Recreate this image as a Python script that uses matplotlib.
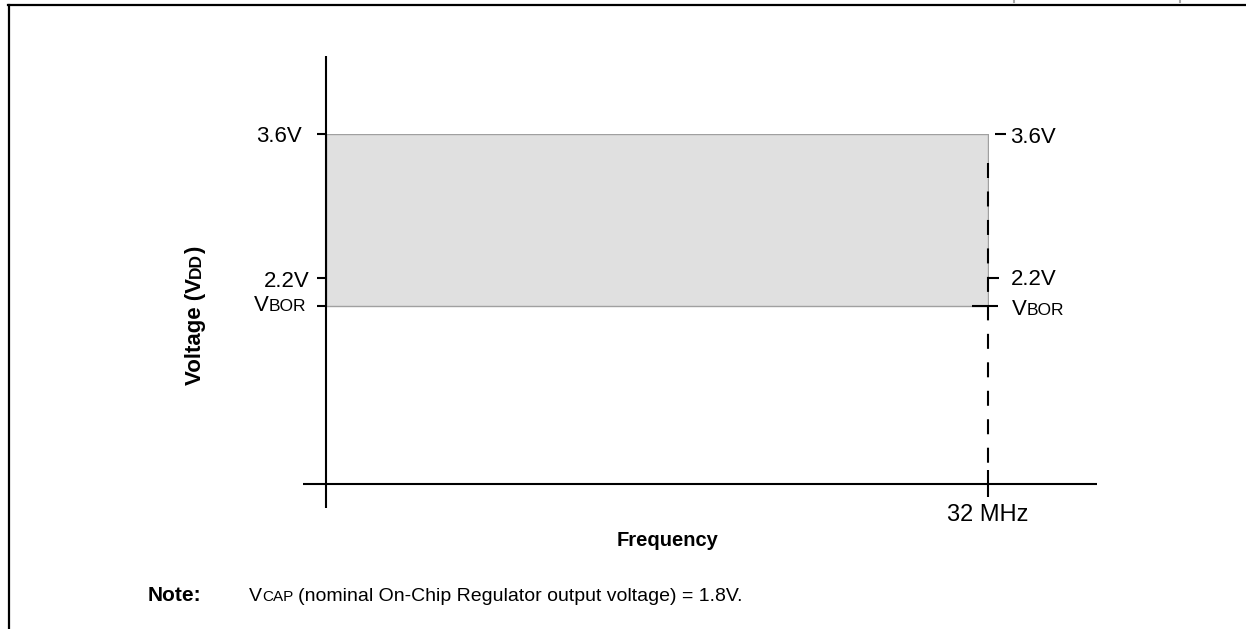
import matplotlib.pyplot as plt
from matplotlib.lines import Line2D
from matplotlib.transforms import IdentityTransform

plt.rcParams['font.family'] = ['Liberation Sans', 'DejaVu Sans']
plt.rcParams['lines.scale_dashes'] = False

# values
f_max = 32              # MHz
v_max = 3.6             # V
v_min = 2.2             # V
v_bor = 1.93            # V (brown-out level, schematic)
v_floor = 0.2           # where the frequency axis sits
level_values = [v_max, v_min]
level_labels = ['3.6V', '2.2V']
freq_label = '32 MHz'
note_text = '(nominal On-Chip Regulator output voltage) = 1.8V.'

W, H = 1246, 629
fs = 16
fs_small = 12.5

fig = plt.figure(figsize=(W / 100, H / 100), dpi=100)
# plot box: origin at pixel (326, 484), top right at (988, 134)
ax = fig.add_axes([326 / W, 1 - 484 / H, (988 - 326) / W, (484 - 134) / H])
ax.set_xlim(0, f_max)
ax.set_ylim(v_floor, v_max)
ax.axis('off')

fx = f_max / 662.0            # MHz per pixel
fy = (v_max - v_floor) / 350.0  # V per pixel
blk = dict(color='k', lw=1.5, clip_on=False, solid_capstyle='butt')

# operating area
ax.fill_between([0, f_max], v_bor, v_max, facecolor='#e0e0e0',
                edgecolor='#a0a0a0', lw=1, zorder=1)

# axes lines
ax.plot([-23 * fx, f_max + 109 * fx], [v_floor, v_floor], zorder=3, **blk)
ax.plot([0, 0], [v_floor - 24 * fy, v_max + 78 * fy], zorder=3, **blk)

# dashed limit at 32 MHz
ax.plot([f_max, f_max], [v_max - 29 * fy, v_floor + 21 * fy], color='k', lw=1.5,
        linestyle=(0, (10.8, 9.7)), clip_on=False, zorder=3)
ax.plot([f_max, f_max], [v_floor + 14 * fy, v_floor - 13 * fy], zorder=3, **blk)

# left ticks and labels
left_gap = [24, 16]
for v, lab, g in zip(level_values, level_labels, left_gap):
    ax.plot([-9.5 * fx, 0], [v, v], zorder=3, **blk)
    ax.annotate(lab, xy=(0, v), xytext=(-g, -8.5), textcoords='offset pixels',
                ha='right', va='baseline', fontsize=fs, annotation_clip=False)
ax.plot([-9.5 * fx, 0], [v_bor, v_bor], zorder=3, **blk)
bor = ax.annotate('BOR', xy=(0, v_bor), xytext=(-20, -5), textcoords='offset pixels',
                  ha='right', va='baseline', fontsize=fs_small, annotation_clip=False)
ax.annotate('V', xy=(0, v_bor), xycoords=(bor, 'data'), xytext=(0, -5),
            textcoords='offset pixels', ha='right', va='baseline', fontsize=fs,
            annotation_clip=False)

# right ticks and labels
ax.plot([f_max + 7 * fx, f_max + 18 * fx], [v_max, v_max], zorder=3, **blk)
ax.plot([f_max, f_max + 11 * fx], [v_min, v_min], zorder=3, **blk)
ax.plot([f_max - 16 * fx, f_max + 10 * fx], [v_bor, v_bor], zorder=3, **blk)
ax.annotate(level_labels[0], xy=(f_max, v_max), xytext=(22, -9), textcoords='offset pixels',
            ha='left', va='baseline', fontsize=fs, annotation_clip=False)
ax.annotate(level_labels[1], xy=(f_max, v_min), xytext=(23, -7), textcoords='offset pixels',
            ha='left', va='baseline', fontsize=fs, annotation_clip=False)
vr = ax.annotate('V', xy=(f_max, v_bor), xytext=(24, -9.5), textcoords='offset pixels',
                 ha='left', va='baseline', fontsize=fs, annotation_clip=False)
ax.annotate('BOR', xy=(1, v_bor), xycoords=(vr, 'data'), xytext=(0, -9.5),
            textcoords='offset pixels', ha='left', va='baseline', fontsize=fs_small,
            annotation_clip=False)

ax.annotate(freq_label, xy=(f_max, v_floor), xytext=(0, -37), textcoords='offset pixels',
            ha='center', va='baseline', fontsize=17, annotation_clip=False)

# axis titles
fig.text(668 / W, 1 - 546 / H, 'Frequency', ha='center', va='baseline',
         fontsize=14.5, fontweight='bold')
t1 = ax.annotate('Voltage (V', xy=(201, H - 385), xycoords='figure pixels',
                 rotation=90, rotation_mode='anchor', ha='left', va='baseline',
                 fontsize=16, fontweight='bold', annotation_clip=False)
t2 = ax.annotate('DD', xy=(201, 1), xycoords=('figure pixels', t1),
                 rotation=90, rotation_mode='anchor', ha='left', va='baseline',
                 fontsize=12.5, fontweight='bold', annotation_clip=False)
ax.annotate(')', xy=(201, 1), xycoords=('figure pixels', t2), xytext=(0, -1),
            textcoords='offset pixels', rotation=90, rotation_mode='anchor',
            ha='left', va='baseline', fontsize=16, fontweight='bold',
            annotation_clip=False)

# note
ax.annotate('Note:', xy=(148, H - 601), xycoords='figure pixels', ha='left',
            va='baseline', fontsize=15, fontweight='bold', annotation_clip=False)
n1 = ax.annotate('V', xy=(249, H - 601), xycoords='figure pixels', ha='left',
                 va='baseline', fontsize=14, annotation_clip=False)
n2 = ax.annotate('CAP', xy=(1, H - 601), xycoords=(n1, 'figure pixels'), ha='left',
                 va='baseline', fontsize=11, annotation_clip=False)
ax.annotate(note_text, xy=(1, H - 601), xycoords=(n2, 'figure pixels'), xytext=(5, 0),
            textcoords='offset pixels', ha='left', va='baseline', fontsize=14,
            annotation_clip=False)

# page frame
idt = IdentityTransform()
fig.add_artist(Line2D([8.5, 8.5], [0, H - 5], transform=idt, color='k', lw=1.6))
fig.add_artist(Line2D([7.5, W], [H - 5, H - 5], transform=idt, color='k', lw=1.6))
for xm in [1014, 1180]:
    fig.add_artist(Line2D([xm, xm], [H, H - 2], transform=idt, color='#aaaaaa', lw=1.5))

fig.savefig('out.png', dpi=100)
